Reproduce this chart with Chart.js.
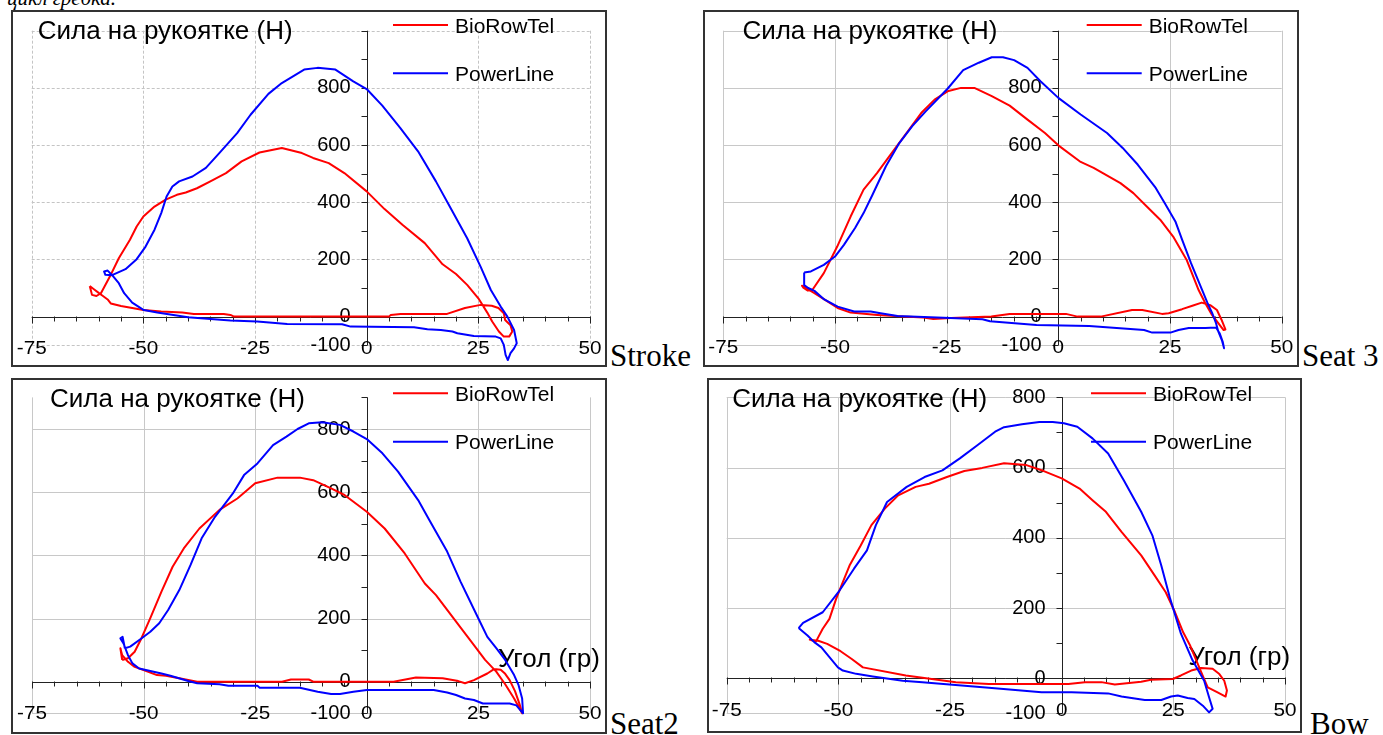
<!DOCTYPE html>
<html>
<head>
<meta charset="utf-8">
<script src="https://cdn.jsdelivr.net/npm/chart.js@4.4.0/dist/chart.umd.min.js"></script>
<style>
  body { margin: 0; width: 1383px; height: 735px; overflow: hidden; background: #fff; position: relative; }
  .panel { position: absolute; }
  .side { position: absolute; font-family: "Liberation Serif", "Times New Roman", serif; font-size: 31px; line-height: 1; white-space: nowrap; color: #000; }
</style>
</head>
<body>
<div class="side" style="left:7px; top:-12px; font-size:21px; font-style:italic">цикл гребка.</div>
<div class="side" style="left:610px; top:340px">Stroke</div>
<div class="side" style="left:1302px; top:340px">Seat 3</div>
<div class="side" style="left:610px; top:708px">Seat2</div>
<div class="side" style="left:1310px; top:708px">Bow</div>

<script>
// axis values
const xTicks = [-75, -50, -25, 0, 25, 50];
const yLabels = [-100, 0, 200, 400, 600, 800];
const yGrid = [-100, 200, 400, 600, 800, 1000];
const seriesNames = ['BioRowTel', 'PowerLine'];
const yTitle = 'Сила на рукоятке (Н)';
const xTitle = 'Угол (гр)';

// [angle, force], one loop per rower
const strokeBio = [[-62,107],[-61.5,76],[-60.5,72],[-59.5,82],[-57.5,140],[-55.5,204],[-53,269],[-51.5,315],[-50,350],[-47.5,385],[-45,409],[-42.5,426],[-40.5,434],[-38,449],[-35,473],[-31.5,502],[-28,543],[-24,574],[-19,590],[-14.5,572],[-12,555],[-8.5,537],[-5,502],[0,438],[4,376],[8,321],[13,257],[17,183],[20,149],[22.5,111],[25,64],[27,14],[28.1,-17],[29.6,-52],[30.7,-70],[31.9,-70],[32.6,-52],[32.2,-30],[31,-12],[30.7,12],[29.5,30],[28,38],[25.5,41],[22,30],[18,9.5],[7.6,9.5],[5.4,6],[5,0],[-29.7,0],[-30.5,6],[-32,9.5],[-38.7,9.5],[-41.3,14],[-46,18],[-50,23],[-55,37],[-57.3,46],[-58,60],[-59.2,74],[-60,83],[-61,95],[-62,107]];
const strokePower = [[-57,145],[-54,166],[-51.5,201],[-49.5,245],[-47.5,304],[-46,362],[-44.8,420],[-43.5,455],[-42,473],[-39,490],[-36,520],[-33,572],[-29,642],[-26,706],[-22,779],[-19,817],[-14,864],[-11,870],[-7,864],[-3,823],[0,796],[3.5,738],[7.5,660],[11.5,578],[15.5,473],[19,374],[22.5,274],[25.5,175],[27.8,93],[30,35],[31.5,0],[33,-47],[33.6,-93],[33,-111],[32.2,-128],[31.6,-152],[31.1,-134],[30.7,-99],[30,-76],[28.9,-70],[24,-68],[20.3,-58],[19.2,-52],[16.6,-47],[13.6,-44],[10.6,-37],[-3.6,-35],[-5.5,-27],[-17.8,-26],[-24.5,-17],[-30.5,-14],[-34.2,-9],[-40,-2],[-46.9,14],[-49.9,23],[-52.5,49],[-54.3,82],[-55.5,117],[-56.8,142],[-58,161],[-58.8,158],[-58.5,146],[-57,145]];
const seat3Bio = [[-56,90],[-55,95],[-52.5,152],[-49.5,245],[-46.5,350],[-43.6,444],[-40.6,502],[-37.6,566],[-33.7,648],[-30.7,712],[-27.7,759],[-24.8,788],[-21.8,800],[-18.8,800],[-14.9,771],[-10.9,738],[-6.9,689],[-3,642],[0,599],[5,541],[7.9,520],[13.9,467],[16.8,432],[19.8,385],[22.8,339],[25.7,280],[28.7,199],[31.4,93],[32.9,47],[34.4,6],[35.8,-23],[37,-47],[37.4,-45],[36.5,-10],[35.5,23],[34,40],[32.1,49],[30,38],[27.7,26],[24.7,12],[23.2,9.5],[18.8,23],[16.5,23],[9.5,0],[4.3,0],[1.7,9.5],[-10.9,9.5],[-15,0],[-24,-5],[-28,-8],[-30.2,-3],[-34.7,0],[-40.5,6],[-46.5,14],[-49.4,30],[-52.4,60],[-54.6,82],[-56,95],[-57.4,108],[-57,100],[-56,90]];
const seat3Power = [[-56.9,154],[-55.4,158],[-52.5,181],[-50,210],[-48,251],[-45.5,310],[-43.6,362],[-41.6,426],[-38.6,526],[-35.6,607],[-32.7,666],[-29.7,718],[-24.8,797],[-21.3,862],[-17.8,888],[-14.9,907],[-12.4,907],[-9.9,897],[-6.9,870],[-4,823],[0,765],[5,707],[10.9,642],[14.4,590],[17.8,531],[21.8,450],[23.8,397],[26.2,333],[27.7,269],[29.7,187],[32.2,93],[33.4,47],[34.5,10],[35.3,-23],[35.8,-52],[36.6,-82],[37.1,-111],[36.8,-88],[36.1,-58],[35.3,-38],[32.9,-40],[29.2,-40],[26.9,-47],[25.1,-56],[21,-56],[19.2,-47],[6.9,-33],[-4.9,-29],[-15.3,-16],[-17,-9],[-25.7,-4],[-36,2],[-39.8,12],[-42,18],[-45.7,18],[-49.4,35],[-52.4,60],[-54.6,90],[-56,100],[-56.9,110],[-56.9,154]];
const seat2Bio = [[-54.8,69],[-53.5,74],[-52,95],[-50.5,137],[-48.5,201],[-46,285],[-43.5,364],[-41,422],[-37.5,485],[-33,544],[-29,580],[-25,628],[-20,646],[-15,646],[-12,638],[-8,612],[-5,591],[0,538],[4,485],[8.5,406],[13,311],[15.5,274],[20,190],[24,116],[26.5,69],[29,32],[31,-8],[33,-53],[34.8,-100],[34.2,-70],[33.2,-30],[32,5],[31,25],[30,38],[28.5,40],[27,26],[24,5],[22,-5],[20.5,2],[17,11],[11,13],[6,0],[-12,0],[-13,7],[-17,7],[-19,0],[-38,0],[-42,11],[-45,19],[-47,21],[-50,37],[-52,47],[-53.5,63],[-54.8,84],[-55.2,106],[-54.8,69]];
const seat2Power = [[-54.2,106],[-53,111],[-50.5,137],[-48.5,158],[-46.5,185],[-44.5,227],[-42,290],[-39.5,369],[-37,454],[-34,522],[-30,596],[-27.5,654],[-24.5,691],[-21,749],[-18,776],[-15.5,800],[-13,818],[-10,821],[-6,813],[-3,792],[0,768],[3.5,723],[7,665],[11.5,575],[14,512],[18,412],[21,317],[25,200],[27,142],[29,106],[31,69],[33,21],[34,-11],[34.8,-53],[35,-100],[33.5,-75],[32,-69],[28,-69],[26,-69],[24,-58],[22,-53],[20,-42],[18,-34],[15,-26],[0,-26],[-3,-32],[-6,-39],[-8,-39],[-11,-32],[-15,-19],[-24,-19],[-24.5,-13],[-31,-13],[-33,-8],[-38,-5],[-40,2],[-44,19],[-46,26],[-51,42],[-52.5,58],[-53.5,84],[-54.5,121],[-55.2,137],[-54.7,142],[-54.2,106]];
const bowBio = [[-56,108],[-55,105],[-53.5,141],[-52,169],[-50.5,226],[-49,274],[-47.5,321],[-45,378],[-42.6,436],[-39.6,483],[-36.6,521],[-32.7,545],[-29.7,554],[-25.7,573],[-21.8,590],[-17.8,599],[-12.9,612],[-7.9,607],[-4,590],[0,569],[4,540],[6.9,507],[9.9,474],[13.4,417],[17.8,350],[20.8,293],[23.3,245],[25.2,193],[27.2,131],[28.7,95],[30,55],[31.5,10],[32.7,-26],[34.9,-40],[36.7,-52],[37,-35],[36.4,-7],[35.3,12],[33.8,27],[31.2,29],[29,22],[26.7,8],[24.9,-2],[20,-4],[17.8,-10],[11.9,-18],[8.9,-11],[5.2,-11],[1.5,-16],[-16.3,-16],[-23.7,-11],[-34.9,8],[-44.5,31],[-47,55],[-49.5,77],[-52.5,98],[-54.5,107],[-56.4,110],[-56,108]];
const bowPower = [[-58.9,143],[-57.9,158],[-53.5,188],[-50,245],[-46.5,312],[-43.6,364],[-41.6,436],[-39.1,502],[-34.7,545],[-30.7,573],[-26.7,592],[-22.8,626],[-18.8,664],[-14.9,702],[-12.9,715],[-8.9,723],[-5,730],[-2,730],[0.5,726],[3.5,716],[6.9,683],[10.4,640],[13.9,564],[17.8,474],[20.3,407],[22.3,321],[24.3,226],[26.7,127],[29.3,51],[31.9,-7],[33,-54],[33.8,-87],[33,-97],[31.6,-78],[29.7,-59],[28.2,-56],[26,-49],[24.5,-52],[22.3,-62],[18.6,-62],[13.4,-52],[10.4,-43],[2.2,-40],[-4.5,-40],[-16.3,-27],[-31.2,-11],[-35.6,-7],[-42.3,5],[-46,12.6],[-49,22],[-50.1,31],[-52,60],[-53.8,88],[-55.4,103],[-56.9,122],[-58.9,143]];

// layout of the four panels (page pixels)
const panels = [
  { bio: strokeBio, power: strokePower, yMax: 1000, box: [11, 10, 596, 357], pad: [20.7, 17, 20.7, 21.8], dashed: true,
    title: [26.7, 29.3], leg: [382, 15, 63.3], xLab: 4, angle: null },
  { bio: seat3Bio, power: seat3Power, yMax: 1000, box: [703, 10, 596, 357], pad: [20.3, 17.3, 20.7, 21.8], dashed: false,
    title: [39.4, 29.3], leg: [383.7, 15, 63.3], xLab: 2.5, angle: null },
  { bio: seat2Bio, power: seat2Power, yMax: 900, box: [11, 378, 596, 356], pad: [21, 17, 19.4, 20.7], dashed: false,
    title: [39, 28.7], leg: [382, 15.3, 63.7], xLab: 1, angle: [487, 289] },
  { bio: bowBio, power: bowPower, yMax: 800, box: [707, 378, 595, 355], pad: [19.7, 17, 19.3, 19.6], dashed: false,
    title: [25.2, 28.7], leg: [384, 15.3, 63.7], xLab: -2.5, angle: [481.3, 287] }
];

const SANS = '"Liberation Sans", Arial, sans-serif';

const axesPlugin = {
  id: 'axes',
  beforeDatasetsDraw(chart, args, opts) {
    const p = opts.panel;
    const { ctx, chartArea: a } = chart;
    const x = chart.scales.x, y = chart.scales.y;
    const x0 = Math.round(x.getPixelForValue(0)) + 0.5;
    const y0 = Math.round(y.getPixelForValue(0)) + 0.5;
    ctx.save();

    // frame
    ctx.strokeStyle = '#333';
    ctx.lineWidth = 2;
    ctx.strokeRect(1, 1, chart.width - 2, chart.height - 2);

    // grid
    ctx.strokeStyle = p.dashed ? '#c4c4c4' : '#c8c8c8';
    ctx.lineWidth = 1;
    ctx.setLineDash(p.dashed ? [3, 2] : []);
    ctx.beginPath();
    xTicks.forEach(v => {
      if (v === 0) return;
      const px = Math.round(x.getPixelForValue(v)) + 0.5;
      ctx.moveTo(px, a.top); ctx.lineTo(px, a.bottom);
    });
    yGrid.filter(v => v <= p.yMax).forEach(v => {
      const py = Math.round(y.getPixelForValue(v)) + 0.5;
      ctx.moveTo(a.left, py); ctx.lineTo(a.right, py);
    });
    ctx.stroke();
    ctx.setLineDash([]);

    // axes through zero
    ctx.strokeStyle = '#222';
    ctx.beginPath();
    ctx.moveTo(a.left, y0); ctx.lineTo(a.right, y0);
    ctx.moveTo(x0, a.top); ctx.lineTo(x0, a.bottom);
    for (let v = -75; v <= 50; v += 5) {
      const px = Math.round(x.getPixelForValue(v)) + 0.5;
      ctx.moveTo(px, y0 - 1); ctx.lineTo(px, y0 + (v % 25 === 0 ? 6 : 4));
    }
    for (let v = -100; v <= p.yMax; v += 100) {
      const py = Math.round(y.getPixelForValue(v)) + 0.5;
      ctx.moveTo(x0 - 6, py); ctx.lineTo(x0, py);
    }
    ctx.stroke();

    // tick labels
    ctx.fillStyle = '#000';
    ctx.font = '20px ' + SANS;
    ctx.textAlign = 'right';
    ctx.textBaseline = 'middle';
    yLabels.forEach(v => ctx.fillText(String(v), x0 - 17, y.getPixelForValue(v)));
    ctx.font = '18px ' + SANS;
    ctx.textAlign = 'center';
    xTicks.forEach(v => {
      ctx.save();
      ctx.translate(x.getPixelForValue(v), a.bottom + p.xLab);
      ctx.scale(1.15, 1);
      ctx.fillText(String(v), 0, 0);
      ctx.restore();
    });

    // axis titles
    ctx.textAlign = 'left';
    ctx.textBaseline = 'alphabetic';
    ctx.font = '26px ' + SANS;
    ctx.fillText(yTitle, p.title[0], p.title[1]);
    if (p.angle) ctx.fillText(xTitle, p.angle[0], p.angle[1]);

    // legend
    const colors = ['#ff0000', '#0000ff'];
    ctx.font = '21px ' + SANS;
    [p.leg[1], p.leg[2]].forEach((ly, i) => {
      ctx.strokeStyle = colors[i];
      ctx.lineWidth = 2;
      ctx.beginPath();
      ctx.moveTo(p.leg[0], ly); ctx.lineTo(p.leg[0] + 55, ly);
      ctx.stroke();
      ctx.fillText(seriesNames[i], p.leg[0] + 62, ly + 7.5);
    });
    ctx.restore();
  }
};

panels.forEach(p => {
  const div = document.createElement('div');
  div.className = 'panel';
  div.style.left = p.box[0] + 'px';
  div.style.top = p.box[1] + 'px';
  const cv = document.createElement('canvas');
  cv.width = p.box[2]; cv.height = p.box[3];
  cv.style.width = p.box[2] + 'px'; cv.style.height = p.box[3] + 'px';
  div.appendChild(cv);
  document.body.appendChild(div);

  new Chart(cv, {
    type: 'scatter',
    data: {
      datasets: [
        { label: seriesNames[0], data: p.bio.map(([x, y]) => ({ x, y })), borderColor: '#ff0000', order: 1 },
        { label: seriesNames[1], data: p.power.map(([x, y]) => ({ x, y })), borderColor: '#0000ff', order: 0 }
      ].map(d => Object.assign(d, { showLine: true, pointRadius: 0, borderWidth: 2, tension: 0, clip: false, borderJoinStyle: 'round' }))
    },
    options: {
      responsive: false,
      devicePixelRatio: 1,
      animation: false,
      layout: { padding: { left: p.pad[0], right: p.pad[1], top: p.pad[2], bottom: p.pad[3] } },
      scales: {
        x: { type: 'linear', min: -75, max: 50, display: false },
        y: { type: 'linear', min: -100, max: p.yMax, display: false }
      },
      plugins: { legend: { display: false }, tooltip: { enabled: false }, axes: { panel: p } }
    },
    plugins: [axesPlugin]
  });
});
</script>
</body>
</html>
